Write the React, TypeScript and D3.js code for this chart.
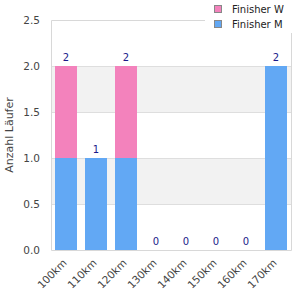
import React, { useEffect, useRef } from "react";
import * as d3 from "d3";

const categories = ["100km", "110km", "120km", "130km", "140km", "150km", "160km", "170km"];
const finisherM = [1, 1, 1, 0, 0, 0, 0, 2];
const finisherW = [1, 0, 1, 0, 0, 0, 0, 0];
const yTicks = [0, 0.5, 1.0, 1.5, 2.0, 2.5];
const seriesNames = ["Finisher W", "Finisher M"];
const seriesColors = ["#f382bc", "#62a8f4"];

const App = () => {
  const ref: any = useRef();

  const width = 300;
  const height = 300;
  const margin = { top: 20, right: 9, bottom: 50, left: 51 };
  const innerW = width - margin.left - margin.right;
  const innerH = height - margin.top - margin.bottom;

  useEffect(() => {
    const svg = d3.select(ref.current);
    svg.selectAll("*").remove();
    svg.attr("width", width).attr("height", height).style("font-family", "DejaVu Sans");

    const ctr = svg.append("g").attr("transform", `translate(${margin.left},${margin.top})`);

    const x = d3.scaleBand().domain(categories).range([0, innerW]).paddingInner(8 / 30).paddingOuter(4 / 30);
    const y = d3.scaleLinear().domain([0, 2.5]).range([innerH, 0]);

    // alternating bands
    ctr
      .selectAll("rect.band")
      .data([0.5, 1.5])
      .join("rect")
      .attr("x", 0)
      .attr("width", innerW)
      .attr("y", (d) => y(d + 0.5))
      .attr("height", (d) => y(d) - y(d + 0.5))
      .attr("fill", "#f2f2f2");

    // gridlines
    ctr
      .selectAll("line.grid")
      .data(yTicks.filter((t) => t > 0 && t < 2.5))
      .join("line")
      .attr("x1", 0)
      .attr("x2", innerW)
      .attr("y1", (d) => Math.round(y(d)) + 0.5)
      .attr("y2", (d) => Math.round(y(d)) + 0.5)
      .attr("stroke", "#dedede");

    // bars
    const stacked = categories.map((c, i) => ({ c, m: finisherM[i], w: finisherW[i] }));
    ctr
      .selectAll("rect.m")
      .data(stacked)
      .join("rect")
      .attr("x", (d) => x(d.c)!)
      .attr("width", x.bandwidth())
      .attr("y", (d) => y(d.m))
      .attr("height", (d) => y(0) - y(d.m))
      .attr("fill", seriesColors[1]);
    ctr
      .selectAll("rect.w")
      .data(stacked.filter((d) => d.w > 0))
      .join("rect")
      .attr("x", (d) => x(d.c)!)
      .attr("width", x.bandwidth())
      .attr("y", (d) => y(d.m + d.w))
      .attr("height", (d) => y(d.m) - y(d.m + d.w))
      .attr("fill", seriesColors[0]);

    // value labels
    ctr
      .selectAll("text.val")
      .data(stacked)
      .join("text")
      .attr("x", (d) => x(d.c)! + x.bandwidth() / 2)
      .attr("y", (d) => y(d.m + d.w) - 5)
      .attr("text-anchor", "middle")
      .attr("font-size", 10)
      .attr("fill", "#1a1a8a")
      .text((d) => d.m + d.w);

    // border
    ctr
      .append("path")
      .attr("d", `M0.5,${innerH + 0.5}V0.5H${innerW - 86}`)
      .attr("fill", "none")
      .attr("stroke", "#d8d8d8");
    ctr
      .append("path")
      .attr("d", `M0.5,${innerH + 0.5}H${innerW + 0.5}V13`)
      .attr("fill", "none")
      .attr("stroke", "#d8d8d8");

    // y tick labels
    ctr
      .selectAll("text.yt")
      .data(yTicks)
      .join("text")
      .attr("x", -11)
      .attr("y", (d) => y(d))
      .attr("dy", "0.35em")
      .attr("text-anchor", "end")
      .attr("font-size", 10.5)
      .attr("fill", "#444")
      .text((d) => d3.format(".1f")(d));

    // x tick labels
    ctr
      .selectAll("text.xt")
      .data(categories)
      .join("text")
      .attr("transform", (d) => `translate(${x(d)! + x.bandwidth() / 2 - 1},${innerH + 11}) rotate(-45)`)
      .attr("text-anchor", "end")
      .attr("dy", "0.35em")
      .attr("font-size", 10.5)
      .attr("fill", "#444")
      .text((d) => d);

    // y title
    svg
      .append("text")
      .attr("transform", `translate(13,${margin.top + innerH / 2}) rotate(-90)`)
      .attr("text-anchor", "middle")
      .attr("font-size", 11)
      .attr("fill", "#444")
      .text("Anzahl Läufer");

    // legend
    const lg = svg
      .selectAll("g.lg")
      .data(seriesNames)
      .join("g")
      .attr("transform", (d, i) => `translate(214,${5 + i * 15})`);
    lg.append("rect")
      .attr("x", 0.5)
      .attr("y", 0.5)
      .attr("width", 7)
      .attr("height", 7)
      .attr("fill", (d, i) => seriesColors[i])
      .attr("stroke", "#888");
    lg.append("text")
      .attr("x", 18)
      .attr("y", 4)
      .attr("dy", "0.35em")
      .attr("font-size", 10)
      .attr("fill", "#222")
      .text((d) => d);
  }, []);

  return (
    <div className="chart" style={{ position: "absolute", left: 0, top: 0 }}>
      <svg ref={ref}></svg>
    </div>
  );
};

export default App;
